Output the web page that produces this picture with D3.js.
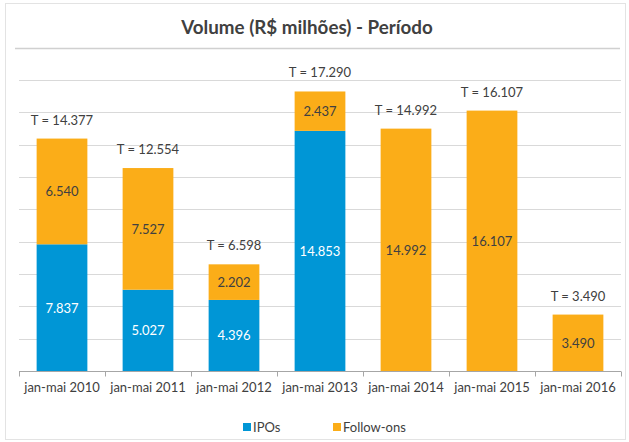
<!DOCTYPE html>
<html>
<head>
<meta charset="utf-8">
<script src="https://cdn.jsdelivr.net/npm/d3@7"></script>
<style>
  body { margin: 0; background: #fff; }
  text { font-family: Lato, "Open Sans", sans-serif; }
</style>
</head>
<body>
<div id="chart"></div>
<script>
// data
var categories = ["jan-mai 2010", "jan-mai 2011", "jan-mai 2012", "jan-mai 2013", "jan-mai 2014", "jan-mai 2015", "jan-mai 2016"];
var ipos = [7837, 5027, 4396, 14853, 0, 0, 0];
var followOns = [6540, 7527, 2202, 2437, 14992, 16107, 3490];
var seriesNames = ["IPOs", "Follow-ons"];
var gridTicks = [0, 2000, 4000, 6000, 8000, 10000, 12000, 14000, 16000, 18000];

var width = 629, height = 442;
var colors = ["#0096d6", "#fbad18"];

var locale = d3.formatLocale({ decimal: ",", thousands: ".", grouping: [3], currency: ["R$", ""] });
var fmt = locale.format(",d");

var svg = d3.select("#chart").append("svg")
  .attr("width", width)
  .attr("height", height);

// outer border
svg.append("rect")
  .attr("x", 5.5).attr("y", 3.5)
  .attr("width", 620).attr("height", 436)
  .style("fill", "#fff")
  .style("stroke", "#e3e3e3");

// title
svg.append("text")
  .attr("x", 307).attr("y", 34)
  .attr("text-anchor", "middle")
  .style("font-size", "18.8px")
  .style("font-weight", "bold")
  .style("fill", "#404040")
  .text("Volume (R$ milhões) - Período");

svg.append("line")
  .attr("x1", 15).attr("x2", 620)
  .attr("y1", 48.5).attr("y2", 48.5)
  .style("stroke", "#d0d0d0")
  .style("stroke-width", 1.5);

var x = d3.scaleBand()
  .domain(categories)
  .range([19, 621])
  .paddingInner(0.41)
  .paddingOuter(0.205);

var y = d3.scaleLinear()
  .domain([0, 18000])
  .range([371, 80]);

// gridlines
svg.append("g").selectAll("line")
  .data(gridTicks.slice(1))
  .enter().append("line")
  .attr("x1", 19).attr("x2", 621)
  .attr("y1", function(d) { return Math.round(y(d)) + 0.5; })
  .attr("y2", function(d) { return Math.round(y(d)) + 0.5; })
  .style("stroke", "#d9d9d9");

// stacked data
var rows = categories.map(function(c, i) {
  return { cat: c, "IPOs": ipos[i], "Follow-ons": followOns[i] };
});
var stack = d3.stack().keys(seriesNames)(rows);

var layers = svg.append("g").selectAll("g")
  .data(stack)
  .enter().append("g")
  .style("fill", function(d, i) { return colors[i]; });

layers.selectAll("rect")
  .data(function(d) { return d; })
  .enter().append("rect")
  .attr("x", function(d) { return x(d.data.cat); })
  .attr("width", x.bandwidth())
  .attr("y", function(d) { return y(d[1]); })
  .attr("height", function(d) { return y(d[0]) - y(d[1]); });

// segment labels
stack.forEach(function(layer, li) {
  svg.append("g").selectAll("text")
    .data(layer.filter(function(d) { return d[1] - d[0] > 0; }))
    .enter().append("text")
    .attr("x", function(d) { return x(d.data.cat) + x.bandwidth() / 2; })
    .attr("y", function(d) { return (y(d[0]) + y(d[1])) / 2 + 5; })
    .attr("text-anchor", "middle")
    .style("font-size", "13px")
    .style("fill", li === 0 ? "#ffffff" : "#404040")
    .text(function(d) { return fmt(d[1] - d[0]); });
});

// totals
svg.append("g").selectAll("text")
  .data(rows)
  .enter().append("text")
  .attr("x", function(d) { return x(d.cat) + x.bandwidth() / 2; })
  .attr("y", function(d) { return y(d["IPOs"] + d["Follow-ons"]) - 14; })
  .attr("text-anchor", "middle")
  .style("font-size", "13px")
  .style("fill", "#404040")
  .text(function(d) { return "T = " + fmt(d["IPOs"] + d["Follow-ons"]); });

// x axis
var xAxis = svg.append("g")
  .attr("transform", "translate(0,371.5)");
xAxis.append("line")
  .attr("x1", 19).attr("x2", 621)
  .style("stroke", "#a6a6a6");
var step = x.step();
xAxis.selectAll("line.tick")
  .data(categories.concat(["end"]))
  .enter().append("line")
  .attr("class", "tick")
  .attr("x1", function(d, i) { return Math.round(19 + i * step) + 0.5; })
  .attr("x2", function(d, i) { return Math.round(19 + i * step) + 0.5; })
  .attr("y1", 0).attr("y2", 5)
  .style("stroke", "#a6a6a6");
xAxis.selectAll("text")
  .data(categories)
  .enter().append("text")
  .attr("x", function(d) { return x(d) + x.bandwidth() / 2; })
  .attr("y", 20)
  .attr("text-anchor", "middle")
  .style("font-size", "13px")
  .style("fill", "#404040")
  .text(function(d) { return d; });

// legend
var legendX = [243, 333];
var legend = svg.append("g").selectAll("g")
  .data(seriesNames)
  .enter().append("g")
  .attr("transform", function(d, i) { return "translate(" + legendX[i] + ",423)"; });
legend.append("rect")
  .attr("width", 8).attr("height", 8)
  .style("fill", function(d, i) { return colors[i]; });
legend.append("text")
  .attr("x", 10).attr("y", 9)
  .style("font-size", "13px")
  .style("fill", "#404040")
  .text(function(d) { return d; });
</script>
</body>
</html>
